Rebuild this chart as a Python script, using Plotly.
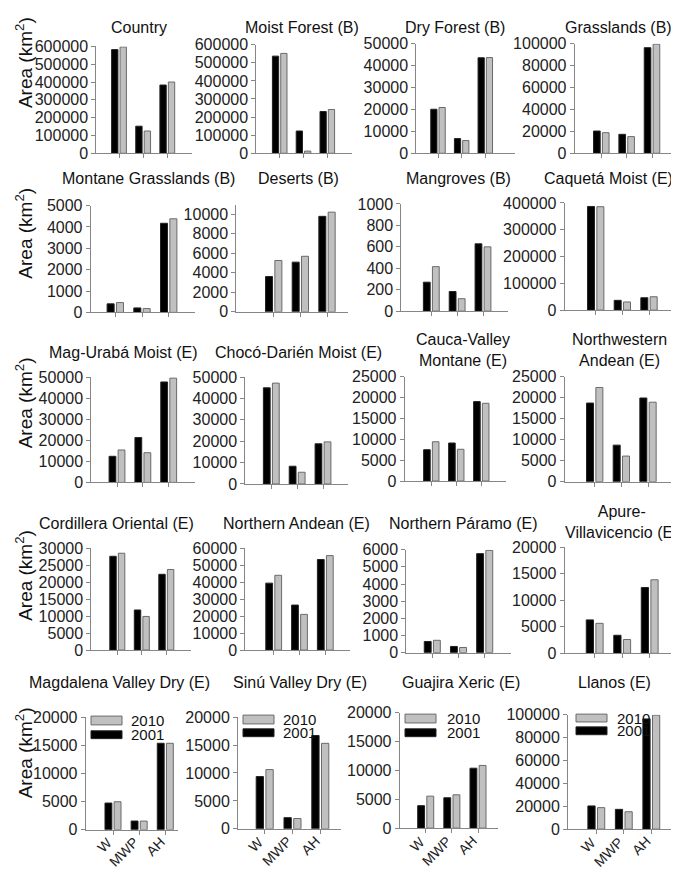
import plotly.graph_objects as go

# ---------------- data ----------------
categories = ["W", "MWP", "AH"]
series_names = ["2001", "2010"]

titles = [
    "Country", "Moist Forest (B)", "Dry Forest (B)", "Grasslands (B)",
    "Montane Grasslands (B)", "Deserts (B)", "Mangroves (B)", "Caquetá Moist (E)",
    "Mag-Urabá Moist (E)", "Chocó-Darién Moist (E)", "Cauca-Valley<br>Montane (E)", "Northwestern<br>Andean (E)",
    "Cordillera Oriental (E)", "Northern Andean (E)", "Northern Páramo (E)", "Apure-<br>Villavicencio (E)",
    "Magdalena Valley Dry (E)", "Sinú Valley Dry (E)", "Guajira Xeric (E)", "Llanos (E)",
]

area_2001 = [
    [582000, 152000, 383000],
    [537000, 123000, 231000],
    [20100, 6700, 43600],
    [20300, 17300, 96400],
    [400, 210, 4170],
    [3620, 5100, 9800],
    [270, 183, 628],
    [387000, 36600, 46300],
    [12400, 21300, 47700],
    [45000, 8300, 18800],
    [7500, 9100, 19000],
    [18700, 8700, 19900],
    [27600, 11800, 22300],
    [39400, 26500, 53300],
    [650, 360, 5770],
    [6300, 3400, 12400],
    [4750, 1560, 15350],
    [9350, 2000, 16700],
    [3900, 5270, 10400],
    [20300, 17300, 96400],
]

area_2010 = [
    [597000, 125000, 400000],
    [552000, 12000, 242000],
    [20900, 5800, 43700],
    [18800, 15200, 99700],
    [460, 180, 4380],
    [5270, 5700, 10230],
    [415, 116, 600],
    [386000, 30500, 50000],
    [15400, 14100, 49500],
    [47200, 5500, 19700],
    [9400, 7600, 18600],
    [22400, 6100, 18900],
    [28500, 9900, 23700],
    [44000, 21000, 55600],
    [720, 300, 5960],
    [5650, 2600, 13850],
    [4980, 1550, 15350],
    [10600, 1850, 15300],
    [5550, 5780, 10880],
    [18800, 15200, 99700],
]

y_max = [600000, 600000, 50000, 100000,
         5000, 11000, 1000, 400000,
         50000, 50000, 25000, 25000,
         30000, 60000, 6000, 20000,
         20000, 20000, 20000, 100000]
y_dtick = [100000, 100000, 10000, 20000,
           1000, 2000, 200, 100000,
           10000, 10000, 5000, 5000,
           5000, 10000, 1000, 5000,
           5000, 5000, 5000, 20000]

y_title = "Area (km<sup>2</sup>)"

# ---------------- layout geometry (pixels) ----------------
W, H = 679, 872
# (axis left, axis right, first tick, last tick, y px of range max, y px of zero, title x, title y)
geom = [
    (88.3, 184, 111, 159.3, 31, 140, 131, 12),
    (248.3, 344, 271.7, 319.3, 29.3, 140, 294, 12),
    (408.3, 506.7, 430, 477.3, 28.3, 140, 447, 12),
    (566.7, 673, 593.3, 644, 28.3, 140, 610, 12),
    (82.7, 186.7, 107.3, 160.7, 193.3, 302.3, 140, 166),
    (228.3, 340, 265.7, 319, 192.4, 301.7, 290, 166),
    (393.3, 500, 423.3, 475, 191.7, 301, 450, 166),
    (556.7, 668.3, 587.7, 641, 190.7, 300, 600, 166),
    (83.3, 186.7, 109, 160.7, 368.3, 475.7, 115, 343),
    (237.3, 340, 263.3, 315, 368.3, 477.3, 290, 343),
    (396.7, 498.3, 423.3, 473.3, 367.7, 474.3, 455, 341),
    (556.7, 668.3, 586.7, 640, 367.7, 475, 611, 341),
    (83.3, 182.7, 109.3, 158.3, 542.7, 646.7, 108, 518),
    (237.3, 342, 265.7, 317.3, 542.7, 646.7, 288, 518),
    (398.3, 503.3, 424.3, 476.7, 544.3, 649.3, 456, 518),
    (556.7, 670, 586.7, 641.7, 541.7, 650, 614, 516),
    (77.7, 170, 105, 157.3, 715, 830, 111, 680),
    (230, 333, 256.7, 312.3, 715, 829, 292, 680),
    (391.7, 490, 417.7, 470, 710.7, 828.3, 453, 680),
    (560, 673, 588.3, 643.3, 712.7, 829.3, 606, 680),
]
ylabel_pos = [(16, 48), (16, 222), (16, 395), (16, 571), (16, 752)]
# legend: (swatch left, swatch right, gray top, gray bottom, black top, black bottom, text left)
legend_geom = [
    (83, 114, 714, 723, 729, 737, 121),
    (235, 266, 713, 722, 727, 735, 273),
    (397, 428, 712, 721, 727, 735, 437),
    (568, 599, 712, 720, 725, 733, 607),
]

FONT = "Liberation Sans, Arial, sans-serif"
AXIS_COLOR = "#868686"
COL_2001 = "#000000"
COL_2010 = "#c0c0c0"


def px(x):
    return x / W


def py(y):
    return 1 - y / H


fig = go.Figure()
layout = {}
annotations = []
shapes = []

for i, title in enumerate(titles):
    k = "" if i == 0 else str(i + 1)
    L, R, t1, t3, ytop, y0, tx, ty = geom[i]
    s = (t3 - t1) / 2.0
    xr = [(L - t1) / s, 2 + (R - t3) / s]
    bottom = i >= 16

    fig.add_trace(go.Bar(x=categories, y=area_2001[i], name=series_names[0],
                         marker=dict(color=COL_2001, line=dict(color="#222222", width=1)),
                         xaxis="x" + k, yaxis="y" + k, showlegend=False))
    fig.add_trace(go.Bar(x=categories, y=area_2010[i], name=series_names[1],
                         marker=dict(color=COL_2010, line=dict(color="#6a6a6a", width=1)),
                         xaxis="x" + k, yaxis="y" + k, showlegend=False))

    layout["xaxis" + k] = dict(
        domain=[px(L), px(R)], range=xr, type="category", anchor="y" + k,
        showline=True, linecolor=AXIS_COLOR, linewidth=1, showgrid=False, zeroline=False,
        ticks="outside", ticklen=4, tickcolor=AXIS_COLOR, tickwidth=1,
        showticklabels=False, fixedrange=True,
    )
    layout["yaxis" + k] = dict(
        domain=[py(y0), py(ytop)], range=[0, y_max[i]], anchor="x" + k,
        tickmode="linear", tick0=0, dtick=y_dtick[i], tickformat="d",
        showline=True, linecolor=AXIS_COLOR, linewidth=1, showgrid=False, zeroline=False,
        ticks="outside", ticklen=4, tickcolor=AXIS_COLOR, tickwidth=1,
        tickfont=dict(family=FONT, size=16, color="#222222"), fixedrange=True,
    )
    annotations.append(dict(
        text=title, x=px(tx), y=py(ty), xref="paper", yref="paper",
        xanchor="center", yanchor="middle", showarrow=False,
        font=dict(family=FONT, size=16, color="#111111"),
    ))
    if bottom:
        # rotated category labels under the bottom-row axes
        for c in categories:
            annotations.append(dict(
                text=c, x=c, xref="x" + k, y=py(y0 + 2), yref="paper",
                xanchor="right", yanchor="top", textangle=-45, showarrow=False,
                xshift=5, font=dict(family=FONT, size=14, color="#222222"),
            ))

for (lx, ly) in ylabel_pos:
    annotations.append(dict(
        text=y_title, x=px(lx), y=py(ly), xref="paper", yref="paper",
        xanchor="center", yanchor="middle", showarrow=False, textangle=-90,
        font=dict(family=FONT, size=19, color="#111111"),
    ))

for (sl, sr, gt, gb, bt, bb, tl) in legend_geom:
    shapes.append(dict(type="rect", xref="paper", yref="paper",
                       x0=px(sl), x1=px(sr), y0=py(gb), y1=py(gt),
                       fillcolor=COL_2010, line=dict(color="#6a6a6a", width=1)))
    shapes.append(dict(type="rect", xref="paper", yref="paper",
                       x0=px(sl), x1=px(sr), y0=py(bb), y1=py(bt),
                       fillcolor=COL_2001, line=dict(color="#222222", width=1)))
    annotations.append(dict(text=series_names[1], x=px(tl), y=py((gt + gb) / 2),
                            xref="paper", yref="paper", xanchor="left", yanchor="middle",
                            showarrow=False, font=dict(family=FONT, size=15, color="#111111")))
    annotations.append(dict(text=series_names[0], x=px(tl), y=py((bt + bb) / 2),
                            xref="paper", yref="paper", xanchor="left", yanchor="middle",
                            showarrow=False, font=dict(family=FONT, size=15, color="#111111")))

fig.update_layout(
    width=W, height=H, margin=dict(l=0, r=0, t=0, b=0),
    paper_bgcolor="white", plot_bgcolor="white",
    barmode="group", bargap=0.3, bargroupgap=0.25,
    showlegend=False, annotations=annotations, shapes=shapes,
    font=dict(family=FONT),
    **layout,
)

fig.write_html("out.html")
